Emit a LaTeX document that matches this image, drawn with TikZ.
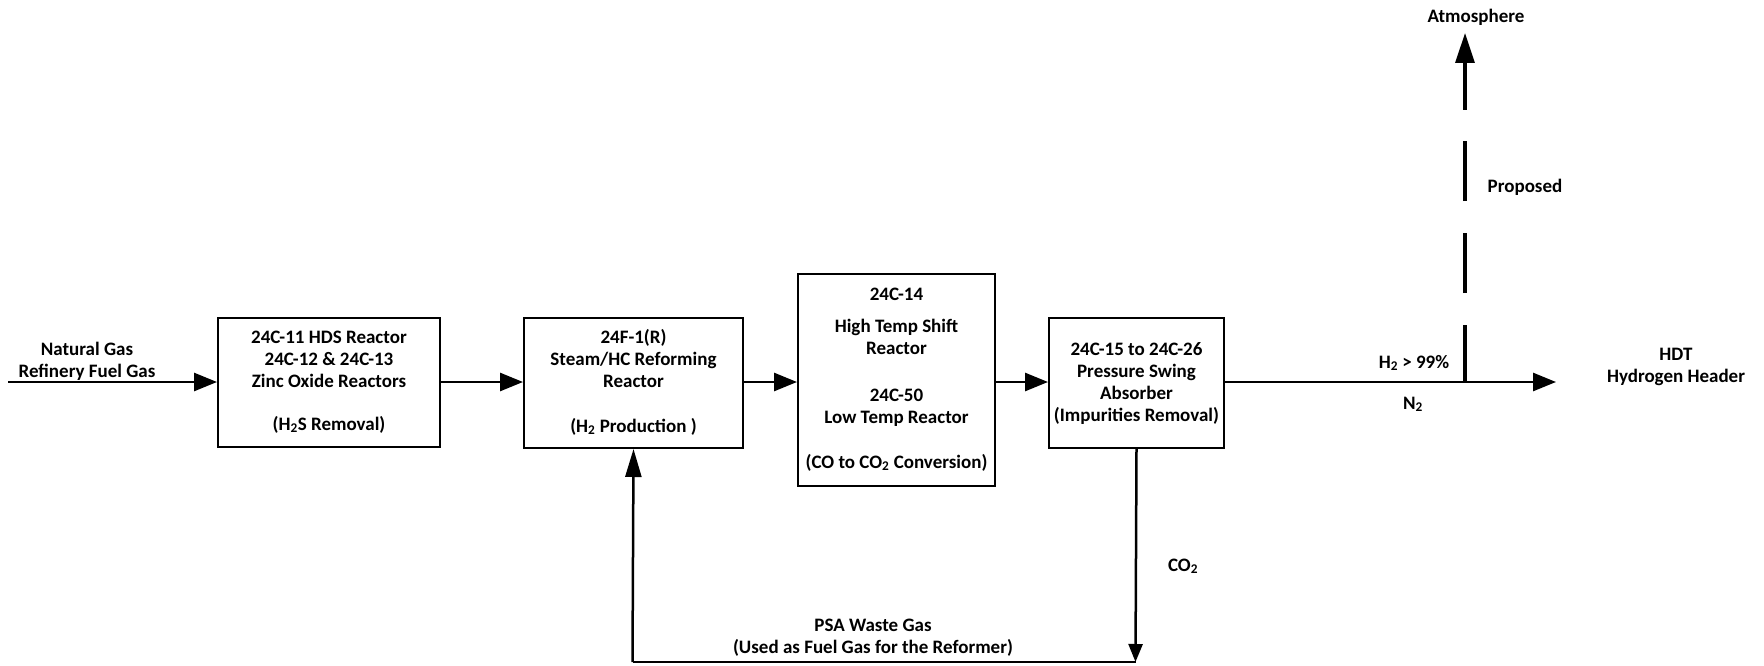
\documentclass[tikz,border=0pt]{standalone}
\usepackage{fontspec}
\setmainfont{Carlito}
\usetikzlibrary{arrows.meta}
\newcommand{\mylines}[1]{\begin{tabular}[t]{@{}c@{}}#1\end{tabular}}
\begin{document}
\begin{tikzpicture}[x=1pt,y=-1pt,
  every node/.style={font=\fontsize{19}{22}\selectfont\bfseries, inner sep=0pt},
  box/.style={draw, line width=2pt, anchor=north west},
  txt/.style={anchor=base},
  flow/.style={line width=2.7pt, -{Triangle[length=23pt,width=18pt]}},
  loopline/.style={line width=2.5pt},
  uparrow/.style={line width=2.5pt, -{Triangle[length=28pt,width=16pt]}},
  downarrow/.style={line width=2.5pt, -{Triangle[length=18pt,width=14pt]}},
  vent/.style={line width=3.3pt, -{Triangle[length=30pt,width=19pt]},
    dash pattern=on 57pt off 32pt on 60pt off 32pt on 60pt off 31pt on 90pt}]
\useasboundingbox (0,0) rectangle (1764,666);

% boxes
\node[box, minimum width=222pt, minimum height=129pt] (b1) at (217,317) {};
\node[box, minimum width=219pt, minimum height=130pt] (b2) at (523,317) {};
\node[box, minimum width=197pt, minimum height=212pt] (b3) at (797,273) {};
\node[box, minimum width=175pt, minimum height=130pt] (b4) at (1048,317) {};

% box texts (positioned by first baseline)
\node[txt] (t1) at (b1.north |- 0,343) {\mylines{24C-11 HDS Reactor\\24C-12 \& 24C-13\\Zinc Oxide Reactors\\[21pt](H\textsubscript{2}S Removal)}};
\node[txt] (t2) at (b2.north |- 0,343) {\mylines{24F-1(R)\\Steam/HC Reforming\\Reactor\\[23pt](H\textsubscript{2} Production )}};
\node[txt] (t3) at (b3.north |- 0,300) {\mylines{24C-14\\[10pt]High Temp Shift\\Reactor\\[25pt]24C-50\\Low Temp Reactor\\[23pt](CO to CO\textsubscript{2} Conversion)}};
\node[txt] (t4) at (b4.north |- 0,355) {\mylines{24C-15 to 24C-26\\Pressure Swing\\Absorber\\(Impurities Removal)}};

% labels
\node[txt] (inlbl) at (87,355) {\mylines{Natural Gas\\Refinery Fuel Gas}};
\node[txt] (h2) at (1414,368) {H\textsubscript{2} > 99\%};
\node[txt] (n2) at (1413,409) {N\textsubscript{2}};
\node[txt] (hdt) at (1676,360) {\mylines{HDT\\Hydrogen Header}};
\node[txt] (atm) at (1476,23) {Atmosphere};
\node[txt] (prop) at (1525,192) {Proposed};
\node[txt] (co2) at (1183,571) {CO\textsubscript{2}};
\node[txt] (psa) at (873,631) {\mylines{PSA Waste Gas\\(Used as Fuel Gas for the Reformer)}};

% coordinates
\coordinate (in) at (8,382);
\coordinate (out) at (1556,382);
\coordinate (jn) at (1465,382);
\coordinate (atmtip) at (1465,33);
\coordinate (c1) at (1135.5,662);
\coordinate (c2) at (632.5,662);

% main flow
\draw[flow] (in) -- (in -| b1.west);
\draw[flow] (in -| b1.east) -- (in -| b2.west);
\draw[flow] (in -| b2.east) -- (in -| b3.west);
\draw[flow] (in -| b3.east) -- (in -| b4.west);
\draw[flow] (in -| b4.east) -- (out);

% vent (proposed)
\draw[vent] (jn) -- (atmtip);

% feedback loop
\draw[downarrow] (b4.south) -- (c1);
\draw[loopline] (c1) -- (c2);
\draw[uparrow] (c2) -- (b2.south);
\end{tikzpicture}
\end{document}
